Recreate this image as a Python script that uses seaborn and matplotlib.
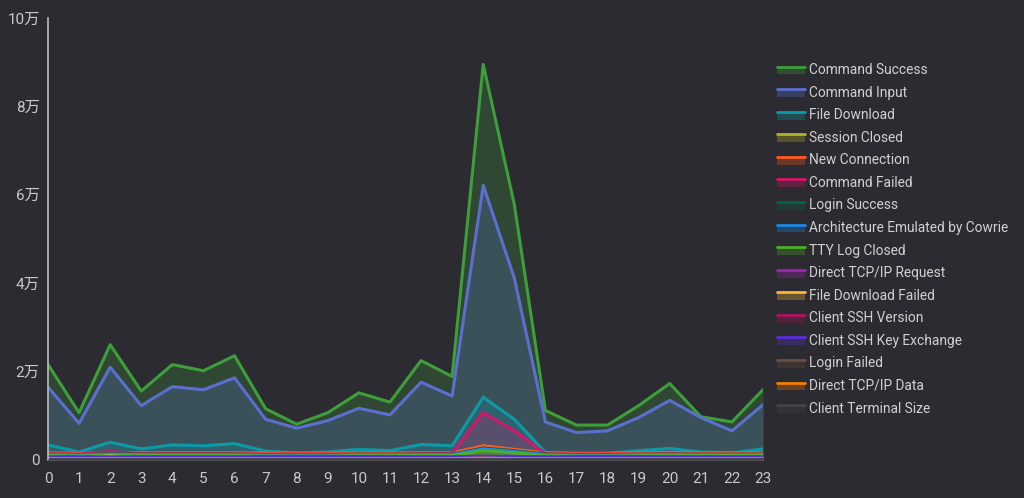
import numpy as np
import pandas as pd
import matplotlib
matplotlib.use("Agg")
import matplotlib.pyplot as plt
import seaborn as sns
from matplotlib.patches import Rectangle
from matplotlib.lines import Line2D
from matplotlib.legend_handler import HandlerBase

hours = list(range(24))

command_success = [21500, 10600, 26000, 15500, 21500, 20100, 23500, 11500, 8000, 10600, 15100, 13000,
                   22400, 18800, 89500, 57800, 11100, 7800, 7800, 12200, 17200, 9700, 8500, 15800]
command_input = [16400, 8200, 20900, 12200, 16500, 15800, 18500, 9100, 7100, 8800, 11600, 10100,
                 17500, 14400, 62100, 41100, 8500, 6100, 6500, 9500, 13400, 9500, 6500, 12400]
file_download = [3300, 1700, 3900, 2400, 3300, 3100, 3600, 1900, 1500, 1700, 2300, 2000,
                 3400, 3100, 14100, 9100, 1600, 1400, 1400, 2000, 2500, 1700, 1500, 2400]
session_closed = [1400, 1300, 1500, 1400, 1400, 1400, 1400, 1300, 1300, 1300, 1400, 1400,
                  1400, 1400, 3000, 2200, 1400, 1300, 1300, 1400, 1400, 1400, 1400, 1400]
new_connection = [1500, 1400, 1600, 1500, 1500, 1500, 1500, 1500, 1400, 1400, 1500, 1500,
                  1500, 1500, 3100, 2300, 1500, 1400, 1400, 1500, 1600, 1500, 1500, 1500]
command_failed = [1300, 1200, 1800, 1300, 1300, 1300, 1300, 1200, 1200, 1200, 1200, 1200,
                  1300, 1400, 10600, 6500, 1300, 1200, 1200, 1200, 1300, 1200, 1200, 1200]
login_success = [1200, 1100, 1300, 1200, 1200, 1200, 1200, 1100, 1100, 1100, 1200, 1200,
                 1200, 1200, 2600, 2000, 1200, 1100, 1100, 1200, 1200, 1200, 1200, 1200]
arch_emulated = [1100, 1000, 1200, 1100, 1100, 1100, 1100, 1000, 1000, 1000, 1100, 1100,
                 1100, 1100, 2400, 1800, 1100, 1000, 1000, 1100, 1100, 1100, 1100, 1100]
tty_log_closed = [900, 800, 1000, 900, 900, 900, 900, 800, 800, 800, 900, 900,
                  900, 900, 2000, 1500, 900, 800, 800, 900, 900, 900, 900, 900]
direct_tcp_request = [300, 300, 300, 300, 300, 300, 300, 700, 700, 700, 700, 700,
                      300, 300, 300, 300, 300, 700, 700, 700, 500, 500, 500, 500]
file_download_failed = [300, 300, 800, 300, 300, 300, 300, 200, 200, 200, 200, 200,
                        300, 300, 500, 400, 200, 200, 200, 200, 200, 200, 200, 200]
client_ssh_version = [600, 600, 600, 600, 600, 600, 600, 600, 600, 600, 600, 600,
                      600, 600, 700, 600, 600, 600, 600, 600, 600, 600, 600, 600]
client_ssh_kex = [500, 500, 500, 500, 500, 500, 500, 500, 500, 500, 500, 500,
                  500, 500, 600, 500, 500, 500, 500, 500, 500, 500, 500, 500]
login_failed = [400, 400, 400, 400, 400, 400, 400, 400, 400, 400, 400, 400,
                400, 400, 400, 400, 400, 400, 400, 400, 400, 400, 400, 400]
direct_tcp_data = [200, 200, 200, 200, 200, 200, 200, 200, 200, 200, 200, 200,
                   200, 200, 300, 200, 200, 200, 200, 200, 200, 200, 200, 200]
client_terminal_size = [100, 100, 100, 100, 100, 100, 100, 100, 100, 100, 100, 100,
                        100, 100, 100, 100, 100, 100, 100, 100, 100, 100, 100, 100]

names = ["Command Success", "Command Input", "File Download", "Session Closed", "New Connection",
         "Command Failed", "Login Success", "Architecture Emulated by Cowrie", "TTY Log Closed",
         "Direct TCP/IP Request", "File Download Failed", "Client SSH Version",
         "Client SSH Key Exchange", "Login Failed", "Direct TCP/IP Data", "Client Terminal Size"]
series = [command_success, command_input, file_download, session_closed, new_connection,
          command_failed, login_success, arch_emulated, tty_log_closed, direct_tcp_request,
          file_download_failed, client_ssh_version, client_ssh_kex, login_failed,
          direct_tcp_data, client_terminal_size]
colors = ["#3d9e3a", "#5b6fd0", "#0d9aa6", "#b3b322", "#ff5a1f", "#d4176c", "#0b5e49", "#1e88e5",
          "#4caf28", "#9c27b0", "#f5b731", "#b0125e", "#5a2fd6", "#6d4c41", "#f57c00", "#444448"]

rows = []
for n, vals in zip(names, series):
    for h, v in zip(hours, vals):
        rows.append({"hour": h, "count": v, "event": n})
df = pd.DataFrame(rows)

BG = "#2c2b31"
sns.set_theme(style="dark")
plt.rcParams["font.family"] = ["Roboto", "Noto Sans CJK SC", "DejaVu Sans"]

fig = plt.figure(figsize=(10.24, 4.98), dpi=100, facecolor=BG)
ax = fig.add_axes([48 / 1024, 1 - 459.5 / 498, (763 - 48) / 1024, (459.5 - 18) / 498])
ax.set_facecolor(BG)

palette = dict(zip(names, colors))
for n in names:
    sub = df[df["event"] == n]
    ax.fill_between(sub["hour"], 0, sub["count"], color=palette[n], alpha=0.25, linewidth=0, zorder=1)
sns.lineplot(data=df, x="hour", y="count", hue="event", hue_order=names, palette=palette,
             legend=False, linewidth=2.2, ax=ax, zorder=2)

ax.set_xlim(0, 23)
ax.set_ylim(0, 100000)
ax.set_xticks(hours)
ax.set_yticks([0, 20000, 40000, 60000, 80000, 100000])
ax.set_yticklabels(["0", "2万", "4万", "6万", "8万", "10万"])
ax.set_xlabel("")
ax.set_ylabel("")
ax.grid(False)
ax.tick_params(axis="both", colors="#c9c9c9", labelsize=11, length=0)
ax.tick_params(axis="y", pad=6)
ax.tick_params(axis="x", pad=9)
for s in ["top", "right"]:
    ax.spines[s].set_visible(False)
ax.spines["left"].set_color("#bdbdbd")
ax.spines["left"].set_linewidth(1.2)
ax.spines["bottom"].set_color("#4a4950")
ax.spines["bottom"].set_linewidth(1.0)


class AreaHandler(HandlerBase):
    def create_artists(self, legend, orig_handle, xdescent, ydescent, width, height, fontsize, trans):
        c = orig_handle.get_color()
        rect = Rectangle((-xdescent, -ydescent), width, height * 0.75, facecolor=c, alpha=0.3,
                         edgecolor="none", transform=trans)
        line = Line2D([-xdescent, -xdescent + width], [-ydescent + height * 0.75] * 2, color=c,
                      linewidth=2.0, transform=trans)
        return [rect, line]


handles = [Line2D([], [], color=c) for c in colors]
leg = fig.legend(handles, names, loc="upper left", bbox_to_anchor=(777 / 1024, 1 - 63 / 498),
                 frameon=False, fontsize=9.95, handlelength=2.0, handleheight=0.8,
                 handletextpad=0.3, labelspacing=0.62, borderpad=0, borderaxespad=0,
                 handler_map={Line2D: AreaHandler()})
for t in leg.get_texts():
    t.set_color("#d0d0d0")

fig.savefig("out.png", dpi=100, facecolor=BG)
